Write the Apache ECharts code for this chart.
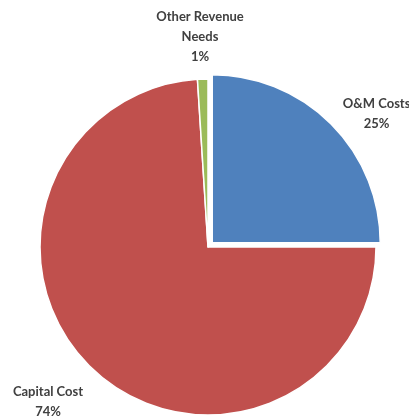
<!DOCTYPE html>
<html>
<head>
<meta charset="utf-8">
<script src="https://cdn.jsdelivr.net/npm/echarts@6/dist/echarts.min.js"></script>
<style>
  html, body { margin: 0; padding: 0; background: #fff; }
  #chart { width: 409px; height: 419px; }
</style>
</head>
<body>
<div id="chart"></div>
<script>
const categories = ['O&M Costs', 'Capital Cost', 'Other Revenue\nNeeds']
const shares = [25, 74, 1]
const sliceColors = ['#4f81bd', '#c0504d', '#9bbb59']

// where each label sits (centre of text block), tuned to the picture
const labelSpots = [[369, 97], [48, 402], [200, 37]]

const chart = echarts.init(document.getElementById('chart'))
const options = {
  animation: false,
  series: [{
    type: 'pie',
    center: [208, 247],
    radius: 168,
    startAngle: 90,
    clockwise: true,
    selectedMode: 'single',
    selectedOffset: 6,
    itemStyle: {
      borderColor: '#fff',
      borderWidth: 1.5
    },
    label: {
      show: true,
      position: 'outside',
      formatter: '{b}\n{d}%',
      color: '#404040',
      fontFamily: 'Lato',
      fontWeight: 'bold',
      fontSize: 13,
      lineHeight: 20,
      align: 'center'
    },
    labelLine: { show: false },
    labelLayout: params => ({
      x: labelSpots[params.dataIndex][0],
      y: labelSpots[params.dataIndex][1],
      align: 'center',
      verticalAlign: 'middle'
    }),
    emphasis: { disabled: true },
    data: categories.map((name, i) => ({
      name,
      value: shares[i],
      selected: i === 0,
      itemStyle: { color: sliceColors[i] },
      label: { width: 110, overflow: 'none' }
    }))
  }]
}
chart.setOption(options)
window.addEventListener('resize', () => {
  chart.resize()
})
</script>
</body>
</html>
